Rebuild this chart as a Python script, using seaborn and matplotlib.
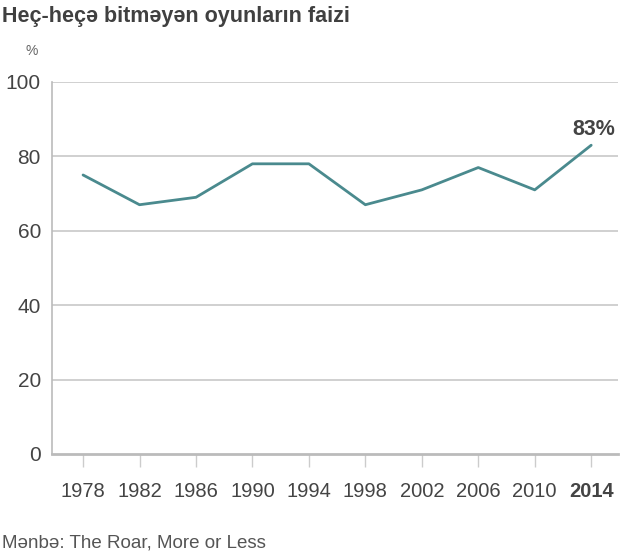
import matplotlib
matplotlib.use("Agg")
import matplotlib.pyplot as plt
import seaborn as sns
import pandas as pd

years = [1978, 1982, 1986, 1990, 1994, 1998, 2002, 2006, 2010, 2014]
values = [75, 67, 69, 78, 78, 67, 71, 77, 71, 83]
yticks = [0, 20, 40, 60, 80, 100]
title = "Heç-heçə bitməyən oyunların faizi"
source = "Mənbə: The Roar, More or Less"

sns.set_theme(style="white")
plt.rcParams['font.family'] = ["Liberation Sans", "DejaVu Sans"]

df = pd.DataFrame({"year": years, "value": values})

fig = plt.figure(figsize=(6.4, 5.58), dpi=100)
ax = fig.add_axes([0.08125, 0.1864, 0.8844, 0.6667])
sns.lineplot(data=df, x="year", y="value", ax=ax, color="#4a8a8e", linewidth=2)

ax.set_xlim(1975.8, 2015.9)
ax.set_ylim(0, 100)
ax.set_yticks(yticks)
ax.set_xticks(years)
ax.set_xlabel("")
ax.set_ylabel("")
for y in yticks[1:]:
    ax.axhline(y, color="#c8c8c8", linewidth=1.2, zorder=0)
for s in ["top", "right"]:
    ax.spines[s].set_visible(False)
ax.spines["left"].set_color("#bbbbbb")
ax.spines["left"].set_linewidth(1.2)
ax.spines["bottom"].set_color("#bbbbbb")
ax.spines["bottom"].set_linewidth(2)
ax.tick_params(axis="x", length=9, width=1, color="#cccccc", direction="out", pad=11,
               labelsize=14.5, labelcolor="#444444", bottom=True)
ax.tick_params(axis="y", length=0, pad=8, labelsize=15, labelcolor="#444444", left=False)
ax.get_xticklabels()[-1].set_fontweight("bold")

ax.annotate(f"{values[-1]}%", xy=(years[-1], values[-1]), xytext=(2, 4),
            textcoords="offset points", ha="center", va="bottom",
            fontsize=15.5, fontweight="bold", color="#444444")

fig.text(0.003, 0.99, title, ha="left", va="top", fontsize=15.5,
         fontweight="bold", color="#404040")
fig.text(0.04, 0.908, "%", ha="left", va="center", fontsize=10, color="#666666")
fig.text(0.003, 0.027, source, ha="left", va="center", fontsize=13.5, color="#555555")

fig.savefig("out.png", dpi=100)
